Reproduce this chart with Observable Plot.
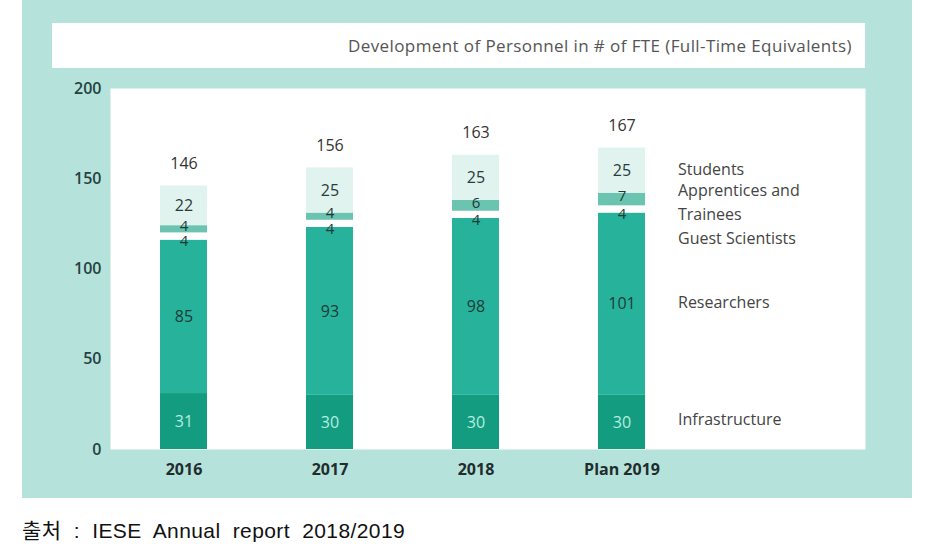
<!DOCTYPE html>
<html>
<head>
<meta charset="utf-8">
<script src="https://cdn.jsdelivr.net/npm/d3@7"></script>
<script src="https://cdn.jsdelivr.net/npm/@observablehq/plot@0.6"></script>
<style>
  html, body { margin: 0; padding: 0; background: #ffffff; }
  #page { position: relative; width: 930px; height: 558px; }
  #panel { position: absolute; left: 22px; top: 0; width: 890px; height: 498px; background: #b6e2dc; }
  #chart { position: absolute; left: 0; top: 0; }
  #titlebar { position: absolute; left: 52px; top: 23px; width: 813px; height: 45px; background: #ffffff;
    font-family: "Open Sans", sans-serif; font-size: 17px; letter-spacing: 0.4px; color: #555; box-sizing: border-box;
    padding-right: 13px; text-align: right; line-height: 45px; }
  #caption { position: absolute; left: 22px; top: 514px; font-family: "Liberation Sans", "Noto Sans CJK KR", sans-serif;
    font-size: 21px; letter-spacing: 0.4px; color: #111; word-spacing: 6px; }
</style>
</head>
<body>
<div id="page">
  <div id="panel"></div>
  <div id="titlebar">Development of Personnel in # of FTE (Full-Time Equivalents)</div>
  <div id="chart"></div>
  <div id="caption">출처 : IESE Annual report 2018/2019</div>
</div>
<script>
// ---- data ----
const years = ["2016", "2017", "2018", "Plan 2019"];
const series = ["Infrastructure", "Researchers", "Guest Scientists", "Apprentices and\nTrainees", "Students"];
const infrastructure = [31, 30, 30, 30];
const researchers = [85, 93, 98, 101];
const guestScientists = [4, 4, 4, 4];
const apprentices = [4, 4, 6, 7];
const students = [22, 25, 25, 25];
const totals = [146, 156, 163, 167];
const yTicks = [0, 50, 100, 150, 200];

// ---- styles ----
const colors = ["#139c80", "#27b39b", "#ffffff", "#6ac4b0", "#e1f3ef"];
const labelColors = ["#b4eee0", "#1f3b38", "#1f3b38", "#1f3b38", "#2a3b3a"];
const valueDy = [0, 0, 5, -3, 0];
const valueSize = [16, 16, 15, 15, 16];
const legendDy = [-5, -4, 27, 1, -3];

const values = [infrastructure, researchers, guestScientists, apprentices, students];
const rows = [];
years.forEach((yr, i) => {
  let base = 0;
  series.forEach((s, j) => {
    const v = values[j][i];
    rows.push({year: yr, series: s, value: v, y1: base, y2: base + v, mid: base + v / 2, j});
    base += v;
  });
});
const totalRows = years.map((yr, i) => ({year: yr, total: totals[i]}));
const lastYear = years[years.length - 1];
const legendRows = rows.filter(d => d.year === lastYear);

const font = "'Open Sans', sans-serif";

const chart = Plot.plot({
  width: 930,
  height: 498,
  marginLeft: 110,
  marginRight: 65,
  marginTop: 88,
  marginBottom: 49,
  style: {background: "transparent", fontFamily: font, fontSize: "15px"},
  x: {domain: years, range: [110, 694], paddingInner: 0.68, paddingOuter: 0.34, label: null},
  y: {domain: [0, 200], label: null},
  color: {domain: series, range: colors},
  marks: [
    Plot.frame({fill: "#ffffff", stroke: null}),
    Plot.axisY({ticks: yTicks, tickSize: 0, tickPadding: 9, label: null, fill: "#244240"}),
    Plot.axisX({tickSize: 0, tickPadding: 14, label: null, fill: "#1f2d2c"}),
    Plot.barY(rows, {x: "year", y1: "y1", y2: "y2", fill: "series", inset: 0}),
    ...series.map((s, j) => Plot.text(rows.filter(d => d.j === j), {
      x: "year", y: "mid", text: "value", fill: labelColors[j], fontSize: valueSize[j], dy: valueDy[j]
    })),
    Plot.text(totalRows, {x: "year", y: "total", text: "total", dy: -22, fontSize: 16, fill: "#333"}),
    ...legendRows.map((d) => Plot.text([d], {
      x: "year", y: "mid", text: "series", textAnchor: "start", dx: 56, dy: legendDy[d.j],
      fontSize: 16, fill: "#444", lineHeight: 1.45
    }))
  ]
});
// axis tick label styling
const sel = d3.select(chart);
sel.selectAll('g[aria-label^="y-axis"]').attr("font-size", 16).selectAll("text")
  .style("font-size", "16px").style("font-weight", "600");
sel.selectAll('g[aria-label^="x-axis"]').attr("font-size", 16).selectAll("text")
  .style("font-size", "16px").style("font-weight", "bold");
document.getElementById("chart").appendChild(chart);
</script>
</body>
</html>
